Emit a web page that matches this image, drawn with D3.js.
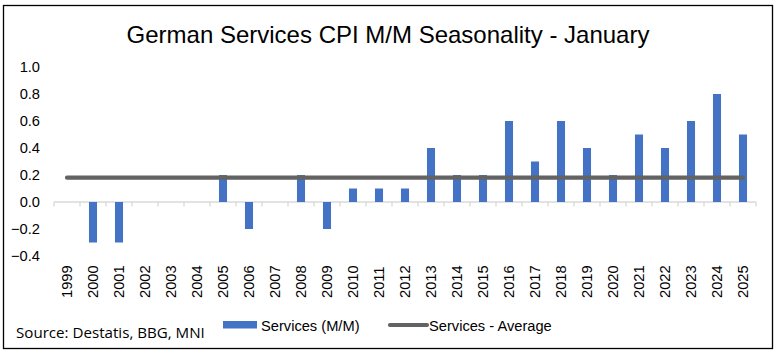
<!DOCTYPE html>
<html><head><meta charset="utf-8">
<script src="https://cdn.jsdelivr.net/npm/d3@7"></script>
<style>body{margin:0;background:#fff}svg{display:block}</style>
</head><body>
<svg id="c" width="779" height="354"></svg>
<script>
const years = ["1999","2000","2001","2002","2003","2004","2005","2006","2007","2008","2009","2010","2011","2012","2013","2014","2015","2016","2017","2018","2019","2020","2021","2022","2023","2024","2025"];
const servicesMM = [0,-0.3,-0.3,0,0,0,0.2,-0.2,0,0.2,-0.2,0.1,0.1,0.1,0.4,0.2,0.2,0.6,0.3,0.6,0.4,0.2,0.5,0.4,0.6,0.8,0.5];
const servicesAvg = [0.18,0.18,0.18,0.18,0.18,0.18,0.18,0.18,0.18,0.18,0.18,0.18,0.18,0.18,0.18,0.18,0.18,0.18,0.18,0.18,0.18,0.18,0.18,0.18,0.18,0.18,0.18];
const yTicks = [-0.4,-0.2,0,0.2,0.4,0.6,0.8,1.0];
const titleText = "German Services CPI M/M Seasonality - January";
const sourceText = "Source: Destatis, BBG, MNI";
const legendLabels = ["Services (M/M)","Services - Average"];

const svg = d3.select("#c");
const font = "Arial, 'Liberation Sans', sans-serif";
const barColor = "#4472C4", lineColor = "#636363";

// border
svg.append("rect").attr("x",3.5).attr("y",5.5).attr("width",769).attr("height",343)
  .attr("fill","#fff").attr("stroke","#000").attr("stroke-width",1.3);

const x = d3.scaleBand().domain(years).range([54,756]).paddingInner(0.69).paddingOuter(0.345);
const xb = d3.scaleBand().domain(years).range([54,756]);
const y = d3.scaleLinear().domain([-0.4,1.0]).range([256,67]);

// title
svg.append("text").attr("x",388).attr("y",43).attr("text-anchor","middle")
  .attr("font-family",font).attr("font-size",24).attr("fill","#000").text(titleText);

// y axis labels
svg.append("g").selectAll("text").data(yTicks).join("text")
  .attr("x",40).attr("y",d=>y(d)).attr("dy","0.35em").attr("text-anchor","end")
  .attr("font-family",font).attr("font-size",14.67).attr("fill","#000")
  .text(d=>d3.format(".1f")(d));

// x axis line and ticks
const gx = svg.append("g").attr("transform",`translate(0,${y(0)})`);
gx.append("line").attr("x1",54).attr("x2",756).attr("stroke","#d9d9d9").attr("stroke-width",1.3);
gx.selectAll("line.t").data(years.concat(["end"])).join("line").attr("class","t")
  .attr("x1",(d,i)=> i<years.length ? xb(d) : 756).attr("x2",(d,i)=> i<years.length ? xb(d) : 756)
  .attr("y1",0).attr("y2",4.5).attr("stroke","#d9d9d9").attr("stroke-width",1.3);

// bars
svg.append("g").selectAll("rect").data(servicesMM).join("rect")
  .attr("x",(d,i)=>x(years[i])).attr("width",x.bandwidth())
  .attr("y",d=>y(Math.max(0,d))).attr("height",d=>Math.abs(y(d)-y(0)))
  .attr("fill",barColor);

// average line
const line = d3.line().x((d,i)=>xb(years[i])+xb.bandwidth()/2).y(d=>y(d));
svg.append("path").datum(servicesAvg).attr("d",line).attr("fill","none")
  .attr("stroke",lineColor).attr("stroke-width",4.2).attr("stroke-linecap","round");

// x labels
svg.append("g").selectAll("text").data(years).join("text")
  .attr("transform",d=>`translate(${xb(d)+xb.bandwidth()/2},298) rotate(-90)`)
  .attr("dy","0.35em").attr("text-anchor","start")
  .attr("font-family",font).attr("font-size",14.67).attr("fill","#000").text(d=>d);

// legend
svg.append("rect").attr("x",223).attr("y",321).attr("width",34).attr("height",7.5).attr("fill",barColor);
svg.append("text").attr("x",261).attr("y",331).attr("font-family",font).attr("font-size",14.67).attr("fill","#000").text(legendLabels[0]);
svg.append("line").attr("x1",390).attr("x2",427).attr("y1",325).attr("y2",325).attr("stroke",lineColor).attr("stroke-width",4.2).attr("stroke-linecap","round");
svg.append("text").attr("x",429).attr("y",331).attr("font-family",font).attr("font-size",14.67).attr("fill","#000").text(legendLabels[1]);

// source
const src = svg.append("text").attr("x",16).attr("y",337.5).attr("font-family","'Open Sans','Noto Sans',sans-serif")
  .attr("font-size",14).attr("fill","#000").text(sourceText);
const w = src.node().getComputedTextLength();
src.attr("font-size", 14*189/w);
</script>
</body></html>
